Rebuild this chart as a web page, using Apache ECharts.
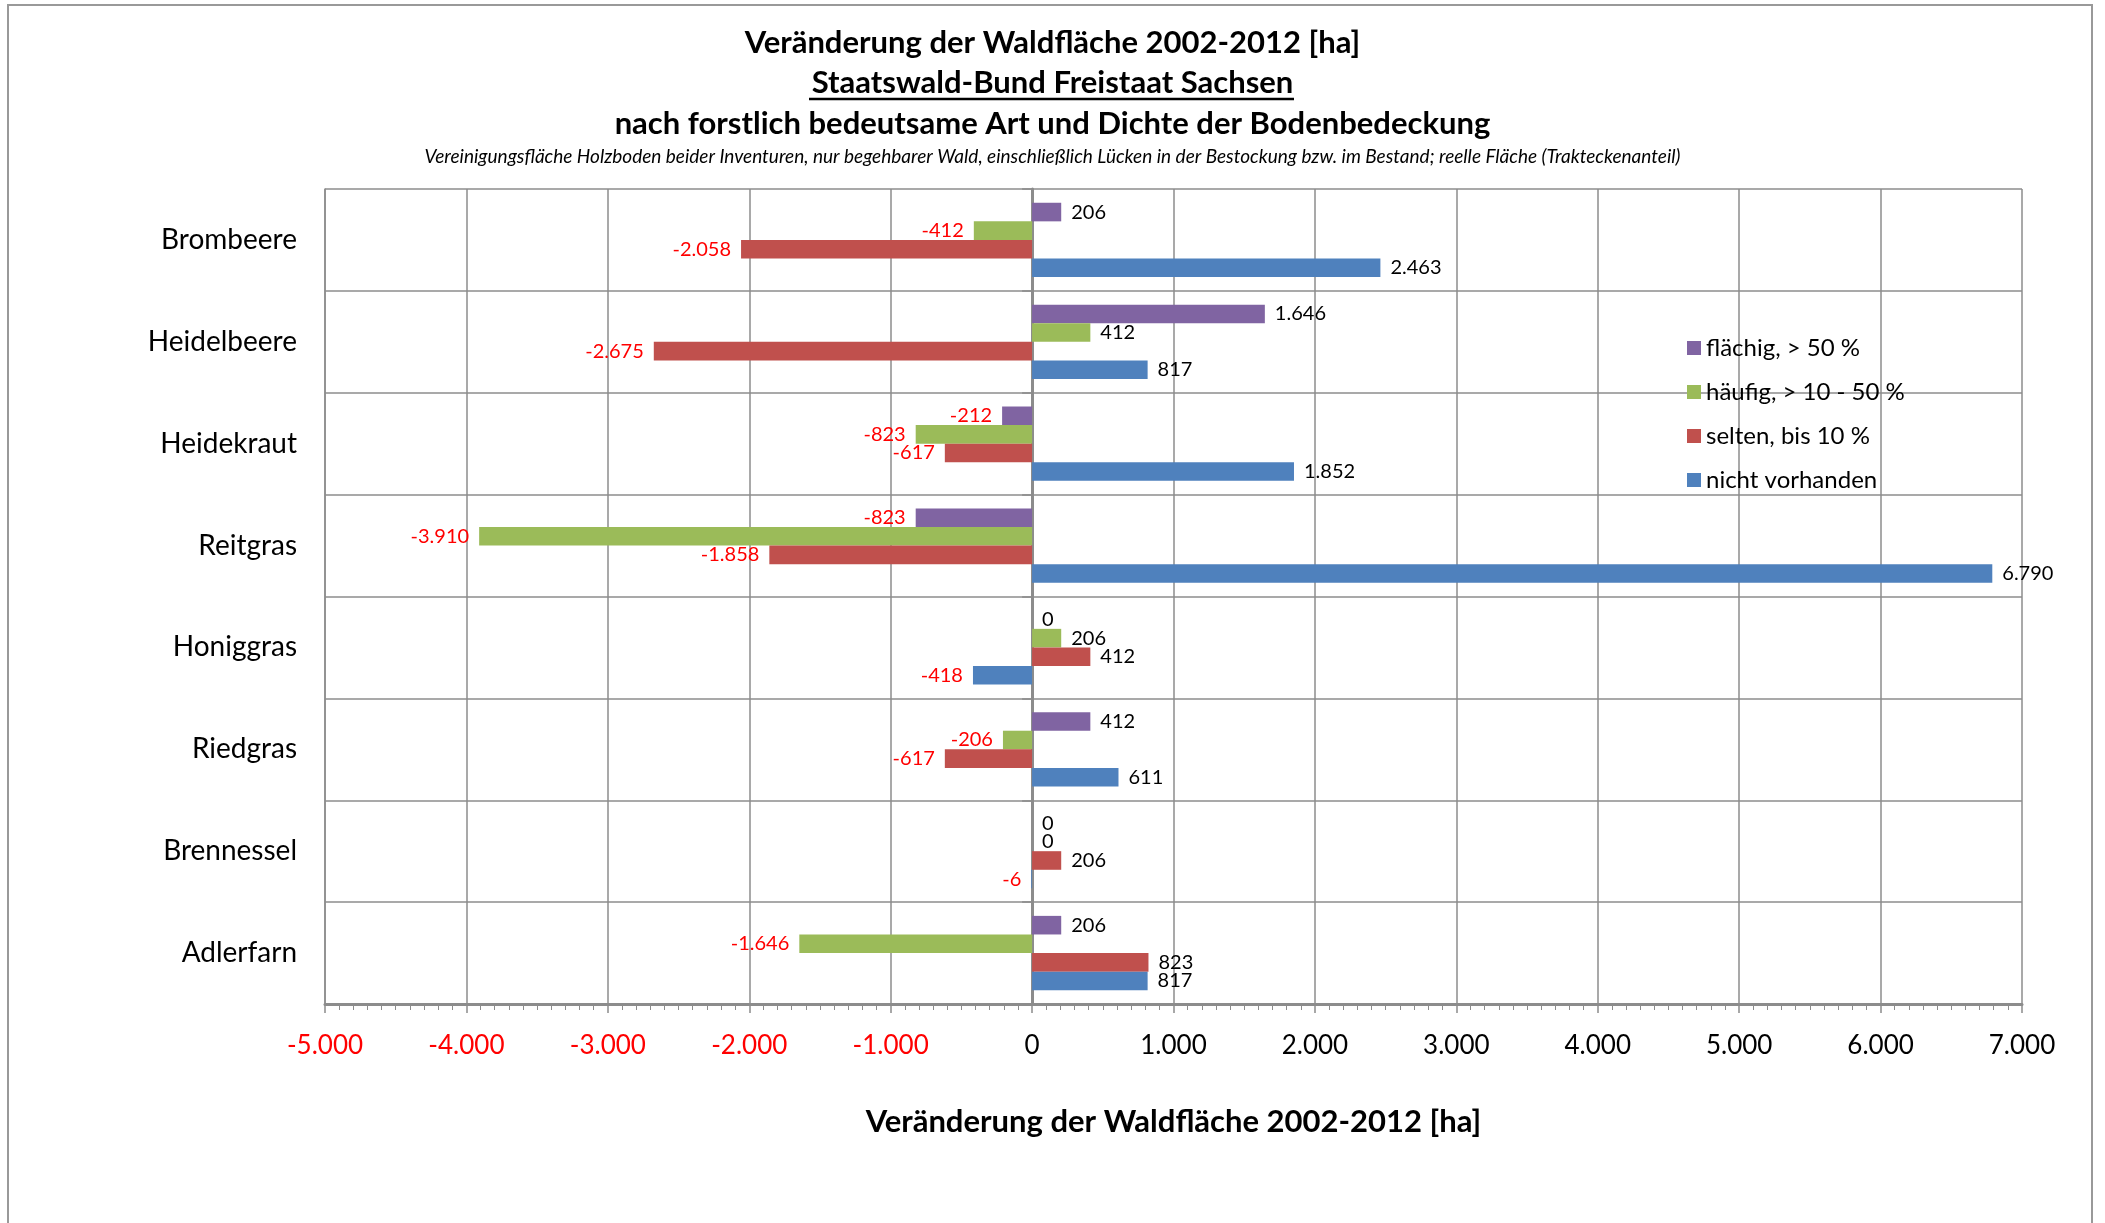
<!DOCTYPE html>
<html>
<head>
<meta charset="utf-8">
<script src="https://cdn.jsdelivr.net/npm/echarts@6/dist/echarts.min.js"></script>
<style>
  html, body { margin: 0; padding: 0; background: #fff; }
  #main { width: 2105px; height: 1223px; }
</style>
</head>
<body>
<div id="main"></div>
<script>
// Daten
const categories = ['Brombeere', 'Heidelbeere', 'Heidekraut', 'Reitgras', 'Honiggras', 'Riedgras', 'Brennessel', 'Adlerfarn'];
const flaechig = [206, 1646, -212, -823, 0, 412, 0, 206];
const haeufig = [-412, 412, -823, -3910, 206, -206, 0, -1646];
const selten = [-2058, -2675, -617, -1858, 412, -617, 206, 823];
const nichtVorhanden = [2463, 817, 1852, 6790, -418, 611, -6, 817];
const seriesNames = ['flächig, > 50 %', 'häufig, > 10 - 50 %', 'selten, bis 10 %', 'nicht vorhanden'];
const seriesColors = ['#8064A2', '#9BBB59', '#C0504D', '#4F81BD'];
const xMin = -5000, xMax = 7000, xStep = 1000;

const FONT = 'Lato';
const gridColor = '#8c8c8c';

// Tausendertrennzeichen "."
function fmt(v) {
  let s = String(Math.abs(v)).replace(/\B(?=(\d{3})+(?!\d))/g, '.');
  return (v < 0 ? '-' : '') + s;
}

function makeSeries(name, color, values) {
  return {
    name: name,
    type: 'bar',
    barGap: '0%',
    barCategoryGap: '27%',
    itemStyle: { color: color },
    label: {
      show: true,
      distance: 10,
      fontSize: 20,
      fontFamily: FONT,
      formatter: p => fmt(p.value)
    },
    data: values.map(v => ({
      value: v,
      label: { position: v < 0 ? 'left' : 'right', color: v < 0 ? '#ff0000' : '#000' }
    }))
  };
}

const chart = echarts.init(document.getElementById('main'));

const option = {
  backgroundColor: '#fff',
  animation: false,
  title: [
    { text: 'Veränderung der Waldfläche 2002-2012 [ha]', left: 'center', top: 22,
      textStyle: { fontFamily: FONT, fontSize: 31, fontWeight: 'bold', color: '#000' } },
    { text: 'Staatswald-Bund Freistaat Sachsen', left: 'center', top: 62,
      textStyle: { fontFamily: FONT, fontSize: 31, fontWeight: 'bold', color: '#000' } },
    { text: 'nach forstlich bedeutsame Art und Dichte der Bodenbedeckung', left: 'center', top: 103,
      textStyle: { fontFamily: FONT, fontSize: 31, fontWeight: 'bold', color: '#000' } },
    { text: 'Vereinigungsfläche Holzboden beider Inventuren, nur begehbarer Wald, einschließlich Lücken in der Bestockung bzw. im Bestand; reelle Fläche (Trakteckenanteil)',
      left: 'center', top: 142,
      textStyle: { fontFamily: FONT, fontSize: 19, fontStyle: 'italic', fontWeight: 'normal', color: '#000' } }
  ],
  graphic: [
    { type: 'rect', silent: true, shape: { x: 8, y: 5, width: 2084, height: 1240 },
      style: { fill: 'none', stroke: '#999', lineWidth: 2 } },
    // Unterstreichung Titelzeile 2
    { type: 'line', silent: true, shape: { x1: 809, y1: 99, x2: 1294, y2: 99 },
      style: { stroke: '#000', lineWidth: 2.5 } }
  ],
  legend: {
    orient: 'vertical',
    left: 1682,
    top: 331,
    itemWidth: 14,
    itemHeight: 14,
    itemGap: 20,
    icon: 'rect',
    data: seriesNames,
    textStyle: { fontFamily: FONT, fontSize: 24, color: '#000' }
  },
  grid: { left: 325, right: 83, top: 189, bottom: 219, containLabel: false },
  xAxis: {
    type: 'value',
    min: xMin,
    max: xMax,
    interval: xStep,
    name: 'Veränderung der Waldfläche 2002-2012 [ha]',
    nameLocation: 'middle',
    nameGap: 102,
    nameTextStyle: { fontFamily: FONT, fontSize: 31, fontWeight: 'bold', color: '#000' },
    axisLine: { show: true, lineStyle: { color: gridColor, width: 3 } },
    axisTick: { show: true, length: 9, lineStyle: { color: gridColor, width: 1.5 } },
    minorTick: { show: true, splitNumber: 10, length: 6, lineStyle: { color: gridColor, width: 1 } },
    splitLine: { show: true, lineStyle: { color: gridColor, width: 1.5 } },
    axisLabel: {
      margin: 29,
      fontFamily: FONT,
      fontSize: 26,
      formatter: v => fmt(v),
      color: v => (Number(v) < 0 ? '#ff0000' : '#000')
    }
  },
  yAxis: [
    {
      type: 'category',
      inverse: true,
      data: categories,
      position: 'left',
      axisLine: { show: true, onZero: false, lineStyle: { color: gridColor, width: 1.5 } },
      axisTick: { show: false },
      splitLine: { show: true, interval: 0, lineStyle: { color: gridColor, width: 1.5 } },
      axisLabel: { margin: 28, fontFamily: FONT, fontSize: 28, color: '#000' }
    },
    {
      // Achse bei 0
      type: 'category',
      inverse: true,
      data: categories,
      axisLine: { show: true, onZero: true, lineStyle: { color: gridColor, width: 3 } },
      axisTick: { show: true, inside: true, length: 10, lineStyle: { color: gridColor, width: 1.5 } },
      axisLabel: { show: false },
      splitLine: { show: false }
    }
  ],
  series: [
    makeSeries(seriesNames[0], seriesColors[0], flaechig),
    makeSeries(seriesNames[1], seriesColors[1], haeufig),
    makeSeries(seriesNames[2], seriesColors[2], selten),
    makeSeries(seriesNames[3], seriesColors[3], nichtVorhanden)
  ]
};

chart.setOption(option);
</script>
</body>
</html>
